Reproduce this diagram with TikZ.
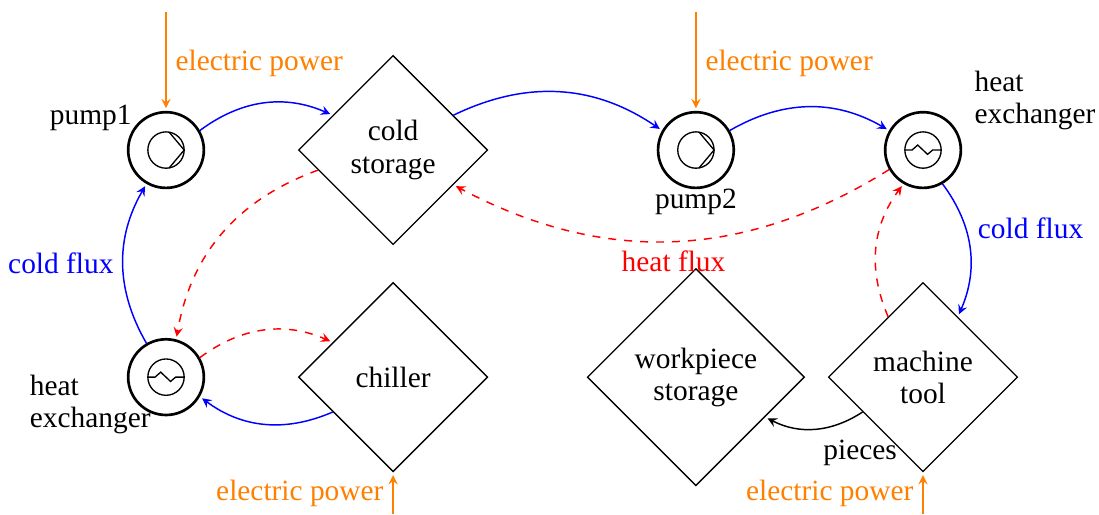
\documentclass[tikz,border=0pt]{standalone}
\usepackage{fontspec}
\setmainfont{Liberation Serif}
\usetikzlibrary{shapes.geometric}

\tikzset{
    store/.style={draw, diamond, aspect=1, inner sep=0pt, minimum width=2.5cm, minimum height=2.5cm, align=center, line width=0.5pt},
    bigstore/.style={store, minimum width=2.87cm, minimum height=2.87cm},
    device/.style={draw, circle, inner sep=0pt, minimum size=1cm, line width=1pt},
    cold/.style={blue, -stealth, bend left=30, shorten >=1pt, line width=0.55pt},
    heat/.style={red, -stealth, dashed, shorten >=1pt, line width=0.55pt},
    power/.style={orange, -stealth, shorten >=1pt, line width=0.55pt},
    tag/.style={align=left},
}

\begin{document}
\begin{tikzpicture}[every node/.append style={font=\fontsize{11.05}{12.1}\selectfont}]

    \def\rs{0.24}      % Radius of the small circle inside a device

    \useasboundingbox (-2.193,1.982) rectangle (12.325,-4.81);

    \node[device] (pump1) at (0,0) {};
    \node[store] (coldstorage) at (3,0) {cold\\storage};
    \node[device] (pump2) at (7,0) {};
    \node[device] (exchangerA) at (10,0) {};
    \node[device] (exchangerB) at (0,-3) {};
    \node[store] (chiller) at (3,-3) {chiller};
    \node[bigstore] (workpiece) at (7,-3) {workpiece\\storage};
    \node[store] (machine) at (10,-3) {machine\\tool};

    \node[anchor=south east] (pump1label) at (-0.33,0.13) {pump1};
    \node[anchor=north, yshift=3.5pt] (pump2label) at (pump2.south) {pump2};
    \node[tag] (exchangerAlabel) at (11.48,0.65) {heat\\exchanger};
    \node[tag] (exchangerBlabel) at (-1,-3.36) {heat\\exchanger};

    % Small pump and exchanger symbols
    \foreach \dev in {pump1,pump2} {
        \draw[line width=0.5pt] (\dev) circle (\rs);
        \draw[line width=0.5pt] ([shift={(80:\rs)}]\dev.center) -- ([shift={(0:\rs)}]\dev.center) -- ([shift={(-80:\rs)}]\dev.center);
    }
    \foreach \dev in {exchangerA,exchangerB} {
        \draw[line width=0.5pt] (\dev) circle (\rs);
        \draw[line width=0.5pt] ([shift={(-\rs,0)}]\dev.center) -- ++(0.095,0) -- ++(0.075,0.066) -- ++(0.13,-0.123) -- ++(0.067,0.057) -- ([shift={(\rs,0)}]\dev.center);
    }

    \coordinate (powerA) at (0,1.82);
    \coordinate (powerB) at (7,1.82);
    \coordinate (powerC) at (3,-4.81);
    \coordinate (powerD) at (10,-4.81);

    \draw[power] (powerA) -- node[midway, right, orange, yshift=-0.7pt] (powerAlabel) {electric power} (pump1);
    \draw[power] (powerB) -- node[midway, right, orange, yshift=-0.7pt] (powerBlabel) {electric power} (pump2);
    \draw[power] (powerC) -- node[midway, left, orange] (powerClabel) {electric power} (chiller);
    \draw[power] (powerD) -- node[midway, left, orange] (powerDlabel) {electric power} (machine);

    \draw[cold] (pump1) to (coldstorage);
    \draw[cold] (coldstorage) to (pump2);
    \draw[cold] (pump2) to (exchangerA);
    \draw[cold] (exchangerA) to node[pos=0.35, right, blue, xshift=1pt] (fluxA) {cold flux} (machine);
    \draw[cold] (chiller) to (exchangerB);
    \draw[cold] (exchangerB) to node[midway, left, blue] (fluxB) {cold flux} (pump1);

    \draw[heat, bend right=30] (coldstorage) to (exchangerB);
    \draw[heat, bend left=30] (exchangerB) to (chiller);
    \draw[heat, bend left=30] (exchangerA) to node[midway, below, red] (fluxC) {heat flux} (coldstorage);
    \draw[heat, bend left=30] (machine) to (exchangerA);

    \draw[-stealth, bend left=30, shorten >=1pt, line width=0.55pt] (machine) to (workpiece);
    \node (pieces) at (9.17,-4) {pieces};

\end{tikzpicture}
\end{document}
